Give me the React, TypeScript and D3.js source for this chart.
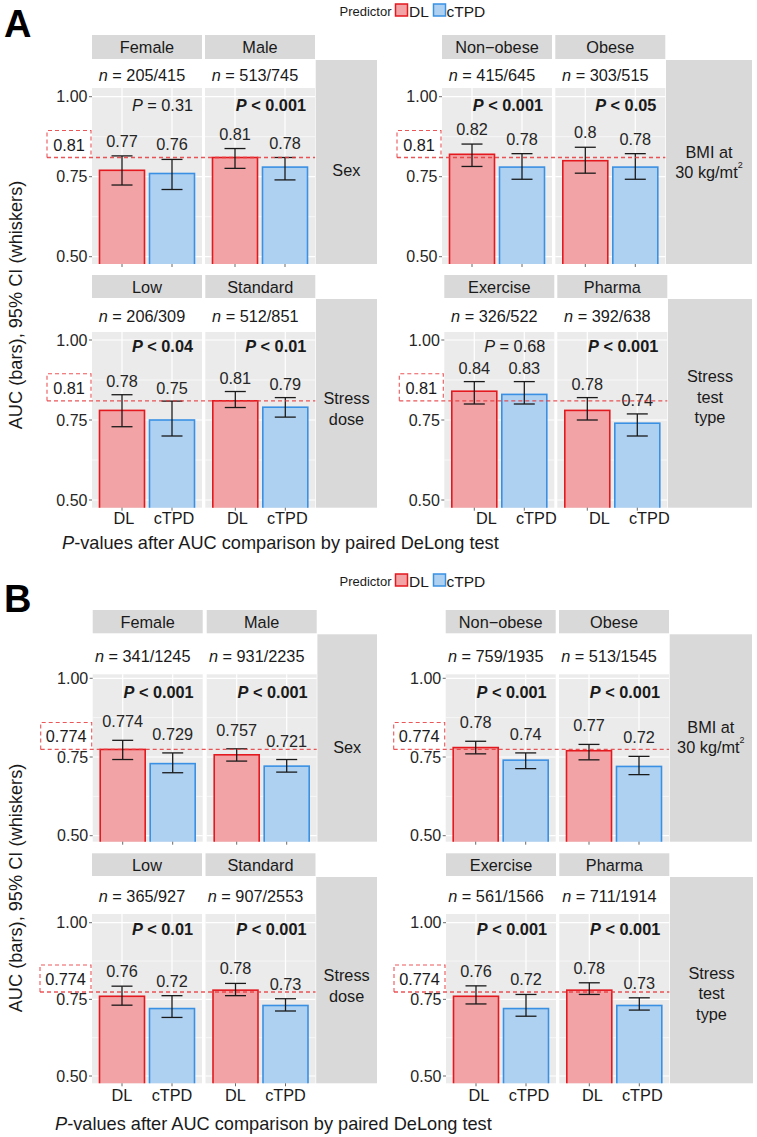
import React from 'react';
import * as d3 from 'd3';

// ---------------- data ----------------
const predictors = ['DL', 'cTPD'];
const figureLetters = ['A', 'B'];
const groupLabels = [['Sex'], ['BMI at', '30 kg/mt'], ['Stress', 'dose'], ['Stress', 'test', 'type']];
const facetNames = [['Female', 'Male'], ['Non\u2212obese', 'Obese'], ['Low', 'Standard'], ['Exercise', 'Pharma']];
const referenceAUC = [0.81, 0.774];
const referenceLabel = ['0.81', '0.774'];
const yTicks = [0.5, 0.75, 1.0];
const yTitle = 'AUC (bars), 95% CI (whiskers)';
const xTitleRest = '-values after AUC comparison by paired DeLong test';

const nA = ['205/415', '513/745', '415/645', '303/515', '206/309', '512/851', '326/522', '392/638'];
const nB = ['341/1245', '931/2235', '759/1935', '513/1545', '365/927', '907/2553', '561/1566', '711/1914'];
const pA = ['= 0.31', '< 0.001', '< 0.001', '< 0.05', '< 0.04', '< 0.01', '= 0.68', '< 0.001'];
const pB = ['< 0.001', '< 0.001', '< 0.001', '< 0.001', '< 0.01', '< 0.001', '< 0.001', '< 0.001'];

const aucDL_A = [0.77, 0.81, 0.82, 0.8, 0.78, 0.81, 0.84, 0.78];
const loDL_A = [0.724, 0.776, 0.782, 0.761, 0.729, 0.789, 0.8, 0.75];
const hiDL_A = [0.815, 0.838, 0.852, 0.842, 0.829, 0.839, 0.87, 0.82];
const aucCT_A = [0.76, 0.78, 0.78, 0.78, 0.75, 0.79, 0.83, 0.74];
const loCT_A = [0.71, 0.74, 0.742, 0.742, 0.7, 0.759, 0.8, 0.7];
const hiCT_A = [0.804, 0.81, 0.822, 0.822, 0.809, 0.82, 0.87, 0.769];

const aucDL_B = [0.774, 0.757, 0.78, 0.77, 0.76, 0.78, 0.76, 0.78];
const loDL_B = [0.742, 0.737, 0.76, 0.741, 0.731, 0.762, 0.735, 0.766];
const hiDL_B = [0.803, 0.776, 0.8, 0.79, 0.793, 0.802, 0.794, 0.804];
const aucCT_B = [0.729, 0.721, 0.74, 0.72, 0.72, 0.73, 0.72, 0.73];
const loCT_B = [0.7, 0.702, 0.713, 0.694, 0.691, 0.712, 0.695, 0.715];
const hiCT_B = [0.763, 0.742, 0.763, 0.752, 0.762, 0.752, 0.766, 0.755];

const labelDigits = [[2, 2, 2, 2], [3, 2, 2, 2]];

// tables built from the arrays
const nLabels = [nA, nB];
const pLabels = [pA, pB];
const series = [
  { DL: { auc: aucDL_A, lo: loDL_A, hi: hiDL_A }, cTPD: { auc: aucCT_A, lo: loCT_A, hi: hiCT_A } },
  { DL: { auc: aucDL_B, lo: loDL_B, hi: hiDL_B }, cTPD: { auc: aucCT_B, lo: loCT_B, hi: hiCT_B } },
];

// ---------------- layout / style ----------------
const W = 757;
const H = 1137;
const FONT = "'Liberation Sans', Arial, Helvetica, sans-serif";
const PANEL_W = 110;
const COLORS = {
  DL: { fill: '#F2A3A5', stroke: '#E3191F' },
  cTPD: { fill: '#AED1F2', stroke: '#3A90E3' },
};
const PANEL_BG = '#EBEBEB';
const STRIP_BG = '#D9D9D9';
const REF_COLOR = '#E8393C';

const rowLayouts = [
  { stripTop: 35, stripBot: 59, panelTop: 88, panelBot: 264, y100: 96.7, y050: 256.7, nY: 74.5, pY: 105, lab: 15,
    x0: [92, 442], gap: [3, 3.3], stripEnd: [377, 752], stripTextY: [170, 162], xShift: [2, 2] },
  { stripTop: 275, stripBot: 298, panelTop: 332, panelBot: 507.7, y100: 340, y050: 500, nY: 316, pY: 345.5, lab: 13.5,
    x0: [92, 444.3], gap: [3.3, 3], stripEnd: [377, 752], stripTextY: [408.3, 396.7], xShift: [2, 12] },
  { stripTop: 610, stripBot: 633.3, panelTop: 674.3, panelBot: 841.7, y100: 678.3, y050: 835.7, nY: 656, pY: 691.7, lab: 19,
    x0: [92.7, 445.7], gap: [4, 3.3], stripEnd: [377, 752], stripTextY: [747.3, 737], xShift: [0, 0] },
  { stripTop: 853.3, stripBot: 876, panelTop: 914, panelBot: 1083.3, y100: 922.7, y050: 1076, nY: 896, pY: 929, lab: 15,
    x0: [92, 446], gap: [3.5, 3.3], stripEnd: [377, 753], stripTextY: [985.7, 993.3], xShift: [0, 3] },
];
const figLayouts = [
  { letterY: 37, legendY: 10, yTitleY: 305, xLabY: 518, xTitleY: 543, xTitleX: 62, boxW: 44 },
  { letterY: 612, legendY: 580, yTitleY: 888, xLabY: 1095, xTitleY: 1124, xTitleX: 55, boxW: 51 },
];

function fmt(v: number, d: number) {
  return String(+v.toFixed(d));
}

function Block({ f, r, c }: { f: number; r: number; c: number }) {
  const L = rowLayouts[f * 2 + r];
  const FL = figLayouts[f];
  const b = r * 2 + c;
  const x0 = L.x0[c];
  const gap = L.gap[c];
  const y = d3.scaleLinear().domain([0.5, 1.0]).range([L.y050, L.y100]);
  const panelsRight = x0 + 2 * PANEL_W + gap;
  const stripX0 = panelsRight + 0.7;
  const stripX1 = L.stripEnd[c];
  const refY = y(referenceAUC[f]);
  const lines = groupLabels[b];
  const lineH = 20.5;
  const out: React.ReactNode[] = [];

  // right-side group strip
  out.push(<rect key="gs" x={stripX0} y={L.stripBot + 1} width={stripX1 - stripX0} height={L.panelBot - L.stripBot - 1} fill={STRIP_BG} />);
  out.push(
    <text key="gst" x={(stripX0 + stripX1) / 2} textAnchor="middle" fontSize={16.3} fill="#1A1A1A" fontFamily={FONT}>
      {lines.map((ln, i) => (
        <tspan key={i} x={(stripX0 + stripX1) / 2} y={L.stripTextY[c] + (i - (lines.length - 1) / 2) * lineH} dominantBaseline="central">
          {ln}
          {ln.endsWith('mt') ? <tspan fontSize={9} dy={-7}>2</tspan> : null}
        </tspan>
      ))}
    </text>
  );

  for (let k = 0; k < 2; k++) {
    const i = b * 2 + k;
    const px = x0 + k * (PANEL_W + gap);
    const x = d3.scalePoint<string>().domain(predictors).range([px, px + PANEL_W]).padding(0.6);
    const bw = x.step() * 0.9;
    const clipId = `clip-${f}-${r}-${c}-${k}`;
    const pTxt = pLabels[f][i];
    const bold = pTxt.startsWith('<');

    out.push(
      <g key={`p${k}`}>
        <clipPath id={clipId}>
          <rect x={px} y={L.panelTop} width={PANEL_W} height={L.panelBot - L.panelTop} />
        </clipPath>
        {/* facet strip */}
        <rect x={px} y={L.stripTop} width={PANEL_W} height={L.stripBot - L.stripTop} fill={STRIP_BG} />
        <text x={px + PANEL_W / 2} y={(L.stripTop + L.stripBot) / 2} textAnchor="middle" dominantBaseline="central" fontSize={16.3} fill="#1A1A1A" fontFamily={FONT}>
          {facetNames[b][k]}
        </text>
        {/* panel */}
        <rect x={px} y={L.panelTop} width={PANEL_W} height={L.panelBot - L.panelTop} fill={PANEL_BG} />
        {[0.625, 0.875].map((t) => (
          <line key={`mn${t}`} x1={px} x2={px + PANEL_W} y1={y(t)} y2={y(t)} stroke="#fff" strokeWidth={0.6} />
        ))}
        {yTicks.map((t) => (
          <line key={`mj${t}`} x1={px} x2={px + PANEL_W} y1={y(t)} y2={y(t)} stroke="#fff" strokeWidth={1.2} />
        ))}
        {predictors.map((p) => (
          <line key={`v${p}`} x1={x(p)} x2={x(p)} y1={L.panelTop} y2={L.panelBot} stroke="#fff" strokeWidth={1.2} />
        ))}
        {/* bars */}
        <g clipPath={`url(#${clipId})`}>
          {predictors.map((p) => {
            const v = series[f][p as 'DL' | 'cTPD'].auc[i];
            return (
              <rect key={`b${p}`} x={(x(p) as number) - bw / 2} y={y(v)} width={bw} height={L.panelBot + 5 - y(v)}
                fill={COLORS[p as 'DL'].fill} stroke={COLORS[p as 'DL'].stroke} strokeWidth={1.6} />
            );
          })}
        </g>
        {/* whiskers and value labels */}
        {predictors.map((p) => {
          const s = series[f][p as 'DL' | 'cTPD'];
          const cx = x(p) as number;
          const yl = y(s.lo[i]);
          const yh = y(s.hi[i]);
          return (
            <g key={`w${p}`}>
              <line x1={cx} x2={cx} y1={yh} y2={yl} stroke="#1A1A1A" strokeWidth={1.3} />
              <line x1={cx - 10.5} x2={cx + 10.5} y1={yh} y2={yh} stroke="#1A1A1A" strokeWidth={1.3} />
              <line x1={cx - 10.5} x2={cx + 10.5} y1={yl} y2={yl} stroke="#1A1A1A" strokeWidth={1.3} />
              <text x={cx} y={yh - L.lab} textAnchor="middle" dominantBaseline="central" fontSize={16.3} fill="#262626" fontFamily={FONT}>
                {fmt(s.auc[i], labelDigits[f][b])}
              </text>
            </g>
          );
        })}
        {/* n row (white, above panel) */}
        <text x={px + PANEL_W / 2 - 5} y={L.nY} textAnchor="middle" dominantBaseline="central" fontSize={16.3} fill="#1A1A1A" fontFamily={FONT}>
          <tspan fontStyle="italic">n</tspan>
          {` = ${nLabels[f][i]}`}
        </text>
        {/* P value */}
        <text x={px + PANEL_W - 9} y={L.pY} textAnchor="end" dominantBaseline="central" fontSize={16.3} fill="#1A1A1A" fontFamily={FONT} fontWeight={bold ? 'bold' : 'normal'}>
          <tspan fontStyle="italic">P</tspan>
          {` ${pTxt}`}
        </text>
        {/* x ticks */}
        {predictors.map((p) => (
          <line key={`xt${p}`} x1={x(p)} x2={x(p)} y1={L.panelBot} y2={L.panelBot + 3} stroke="#444" strokeWidth={0.8} />
        ))}
        {r === 1 &&
          predictors.map((p) => (
            <text key={`xl${p}`} x={(x(p) as number) + L.xShift[c]} y={FL.xLabY} textAnchor="middle" dominantBaseline="central" fontSize={16.3} fill="#1A1A1A" fontFamily={FONT}>
              {p}
            </text>
          ))}
      </g>
    );
  }

  // y axis
  out.push(
    <g key="yax">
      {yTicks.map((t) => (
        <g key={t}>
          <line x1={x0 - 3} x2={x0} y1={y(t)} y2={y(t)} stroke="#444" strokeWidth={0.8} />
          <text x={x0 - 4.5} y={y(t)} textAnchor="end" dominantBaseline="central" fontSize={16} fill="#262626" fontFamily={FONT}>
            {d3.format('.2f')(t)}
          </text>
        </g>
      ))}
    </g>
  );

  // reference line + dashed box
  const boxR = x0 - 1;
  const boxL = boxR - FL.boxW;
  const boxTop = refY - 27;
  out.push(
    <g key="ref">
      <line x1={boxL} x2={panelsRight} y1={refY} y2={refY} stroke={REF_COLOR} strokeWidth={1.3} strokeDasharray="4,3" opacity={0.85} />
      <path d={`M${boxL},${refY} V${boxTop} H${boxR} V${refY}`} fill="none" stroke={REF_COLOR} strokeWidth={1.1} strokeDasharray="4,3" opacity={0.85} />
      <text x={(boxL + boxR) / 2} y={(boxTop + refY) / 2 + 0.5} textAnchor="middle" dominantBaseline="central" fontSize={16.3} fill="#1A1A1A" fontFamily={FONT}>
        {referenceLabel[f]}
      </text>
    </g>
  );

  return <g>{out}</g>;
}

function Figure({ f }: { f: number }) {
  const FL = figLayouts[f];
  const ly = FL.legendY;
  return (
    <g>
      <text x={4} y={FL.letterY} fontSize={38} fontWeight="bold" fontFamily={FONT} fill="#000">
        {figureLetters[f]}
      </text>
      {/* legend */}
      <text x={391.5} y={ly + 1} textAnchor="end" dominantBaseline="central" fontSize={13} fill="#1A1A1A" fontFamily={FONT}>Predictor</text>
      <rect x={395.5} y={ly - 6} width={12} height={12} fill={COLORS.DL.fill} stroke={COLORS.DL.stroke} strokeWidth={1.5} />
      <text x={409} y={ly + 1} dominantBaseline="central" fontSize={15.5} fill="#1A1A1A" fontFamily={FONT}>DL</text>
      <rect x={433.5} y={ly - 6} width={12} height={12} fill={COLORS.cTPD.fill} stroke={COLORS.cTPD.stroke} strokeWidth={1.5} />
      <text x={446.5} y={ly + 1} dominantBaseline="central" fontSize={15.5} fill="#1A1A1A" fontFamily={FONT}>cTPD</text>
      {/* y title */}
      <text transform={`translate(16,${FL.yTitleY}) rotate(-90)`} textAnchor="middle" dominantBaseline="central" fontSize={18.2} fill="#1A1A1A" fontFamily={FONT}>
        {yTitle}
      </text>
      {/* x title */}
      <text x={FL.xTitleX} y={FL.xTitleY} dominantBaseline="central" fontSize={18.2} fill="#1A1A1A" fontFamily={FONT}>
        <tspan fontStyle="italic">P</tspan>
        {xTitleRest}
      </text>
      {[0, 1].map((r) => [0, 1].map((c) => <Block key={`${r}-${c}`} f={f} r={r} c={c} />))}
    </g>
  );
}

export default function App() {
  return (
    <svg width={W} height={H} viewBox={`0 0 ${W} ${H}`} style={{ position: 'absolute', left: 0, top: 0, background: '#fff' }}>
      <rect x={0} y={0} width={W} height={H} fill="#fff" />
      <Figure f={0} />
      <Figure f={1} />
    </svg>
  );
}
